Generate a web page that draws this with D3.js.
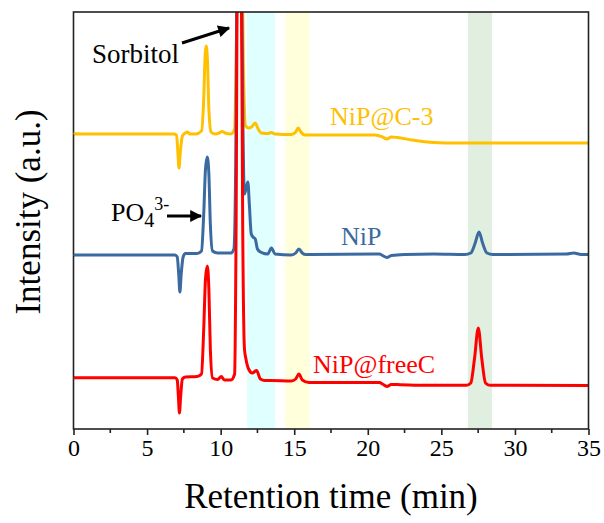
<!DOCTYPE html>
<html lang="en">
<head>
<meta charset="utf-8">
<script src="https://d3js.org/d3.v7.min.js"></script>
<style>
body { margin: 0; background: #fff; }
svg text { font-family: "Times New Roman", "Liberation Serif", serif; }
.frame { fill: none; stroke: #222; stroke-width: 1.6; }
.trace { fill: none; stroke-width: 3; stroke-linejoin: round; }
</style>
</head>
<body>
<div id="chart"></div>
<script>

// retention time (min) and intensity, one list per sample
var nipC3 = [[0,295],[6.8,295],[7.0,294],[7.1,275],[7.17,261],[7.25,275],[7.4,293],[7.6,296],[7.75,297],[7.9,295],
  [8.3,295],[8.7,298],[8.85,330],[8.95,375],[9.02,383],[9.1,370],[9.2,320],[9.35,297],[9.6,295],[9.9,296],
  [10.1,297.5],[10.3,296],[10.7,295],[10.95,300],[11.05,360],[11.15,460],[11.45,460],[11.55,360],[11.7,303],
  [11.9,301],[12.1,302],[12.35,306],[12.55,300],[12.75,296],[13.2,295.5],[13.45,296.5],[13.7,295],[14.8,294.5],
  [15.1,297],[15.27,301],[15.45,297],[15.7,294],[16.5,294],[20.5,294],[21.0,292],[21.3,290],[21.6,292],
  [22,291.5],[23,289],[24.5,286.5],[26,286],[35,286]];

var nip = [[0,174],[6.9,174],[7.05,172],[7.15,155],[7.23,137],[7.32,155],[7.45,172],[7.6,175.5],[8.4,175.5],
  [8.7,178],[8.85,215],[8.97,260],[9.09,272],[9.2,255],[9.3,205],[9.45,178],[9.8,176],[10.7,176],[10.9,180],
  [11.02,260],[11.12,460],[11.42,460],[11.52,300],[11.62,235],[11.72,240],[11.85,247],[11.95,225],[12.08,195],
  [12.2,192],[12.35,190],[12.5,180],[12.7,177],[13.2,175],[13.45,181],[13.7,175],[14.8,174],[15.1,176],
  [15.32,180],[15.55,176],[15.8,174.5],[20.8,175],[21.0,173.5],[21.3,171.5],[21.6,173.5],[22.5,174.5],
  [24.5,175],[26.6,174.5],[27.0,176],[27.3,186],[27.56,197],[27.8,186],[28.1,176],[28.5,174.5],[33.5,175],
  [34,176],[34.5,174.5],[35,174.5]];

var nipFreeC = [[0,51.3],[6.9,51.3],[7.05,49],[7.13,32],[7.2,16],[7.28,32],[7.4,50],[7.6,52],[8.4,52.5],
  [8.7,55],[8.85,100],[8.97,150],[9.09,163],[9.2,140],[9.3,80],[9.45,51],[9.8,49.5],[10.04,52.5],[10.25,49],
  [10.7,49],[10.95,55],[11.05,200],[11.14,460],[11.4,460],[11.5,200],[11.62,80],[11.72,70],[11.9,60],
  [12.15,56],[12.44,58.5],[12.7,50],[13.0,48.5],[13.4,48.5],[14.8,48],[15.1,50],[15.32,55],[15.55,49],
  [16,46.5],[20.8,46.5],[21.0,45],[21.3,42.5],[21.6,44.5],[22.2,44.3],[24,43.7],[26.7,43.7],[27.0,46],
  [27.25,70],[27.51,101],[27.75,70],[28.0,46],[28.3,43.7],[35,43.5]];

var seriesNames = ["NiP@C-3", "NiP", "NiP@freeC"];
var baselines = [295.5, 174, 51];

// highlighted retention windows
var bandStart = [11.8, 14.4, 26.8];
var bandEnd = [13.7, 16.05, 28.45];

var xTicks = [0, 5, 10, 15, 20, 25, 30, 35];
var xMinor = [2.5, 7.5, 12.5, 17.5, 22.5, 27.5, 32.5];

var width = 604, height = 523;
var colors = ["#ffc000", "#3a6aa0", "#ff0000"];
var bandColors = ["#e0ffff", "#ffffdc", "#e1efe1"];

var x = d3.scaleLinear().domain([0, 35]).range([73.5, 588.5]);
var y = d3.scaleLinear().domain([0, 417]).range([429, 12]);

var svg = d3.select("#chart").append("svg")
  .attr("width", width)
  .attr("height", height);

svg.append("defs").append("clipPath").attr("id", "plot")
  .append("rect")
  .attr("x", x(0)).attr("y", y(417))
  .attr("width", x(35) - x(0)).attr("height", y(0) - y(417));

var marker = svg.select("defs").append("marker")
  .attr("id", "head")
  .attr("viewBox", "0 0 10 10")
  .attr("refX", 9).attr("refY", 5)
  .attr("markerWidth", 5).attr("markerHeight", 4)
  .attr("markerUnits", "strokeWidth")
  .attr("orient", "auto");
marker.append("path").attr("d", "M0,0 L10,5 L0,10 Z").attr("fill", "#000");

// bands
svg.selectAll("rect.band")
  .data(bandStart)
  .enter().append("rect")
  .attr("class", "band")
  .attr("x", function(d) { return x(d); })
  .attr("y", y(417))
  .attr("width", function(d, i) { return x(bandEnd[i]) - x(d); })
  .attr("height", y(0) - y(417))
  .attr("fill", function(d, i) { return bandColors[i]; });

// traces
var line = d3.line()
  .x(function(d) { return x(d[0]); })
  .y(function(d) { return y(d[1]); })
  .curve(d3.curveMonotoneX);

var g = svg.append("g").attr("clip-path", "url(#plot)");
[nipC3, nip, nipFreeC].forEach(function(s, i) {
  g.append("path")
    .attr("class", "trace")
    .attr("d", line(s))
    .attr("stroke", colors[i]);
});

// frame
svg.append("rect").attr("class", "frame")
  .attr("x", x(0)).attr("y", y(417))
  .attr("width", x(35) - x(0)).attr("height", y(0) - y(417));

// x axis
var xAxis = svg.append("g").attr("transform", "translate(0," + y(0) + ")");
xAxis.call(d3.axisBottom(x).tickValues(xTicks).tickSize(6).tickPadding(4).tickFormat(d3.format("d")));
xAxis.select(".domain").remove();
xAxis.selectAll(".tick line").attr("stroke", "#222").attr("stroke-width", 1.6);
xAxis.selectAll(".tick text").attr("font-size", 24).attr("fill", "#000")
  .style("font-family", "'Times New Roman', 'Liberation Serif', serif");
xAxis.selectAll("line.minor")
  .data(xMinor)
  .enter().append("line")
  .attr("class", "minor")
  .attr("x1", function(d) { return x(d); })
  .attr("x2", function(d) { return x(d); })
  .attr("y1", 0).attr("y2", 4)
  .attr("stroke", "#222").attr("stroke-width", 1.6);

// baseline marks on the left axis
svg.selectAll("line.base")
  .data(baselines)
  .enter().append("line")
  .attr("class", "base")
  .attr("x1", x(0)).attr("x2", x(0) + 6)
  .attr("y1", function(d) { return y(d); })
  .attr("y2", function(d) { return y(d); })
  .attr("stroke", function(d, i) { return colors[i]; })
  .attr("stroke-width", 2);

// axis titles
svg.append("text")
  .attr("x", x(17.5)).attr("y", 508)
  .attr("text-anchor", "middle")
  .attr("font-size", 35)
  .text("Retention time (min)");

svg.append("text")
  .attr("transform", "translate(40," + 212 + ") rotate(-90)")
  .attr("text-anchor", "middle")
  .attr("font-size", 35)
  .text("Intensity (a.u.)");

// series labels
var labelPos = [[330, 125], [341, 245], [313, 373]];
seriesNames.forEach(function(n, i) {
  svg.append("text")
    .attr("x", labelPos[i][0]).attr("y", labelPos[i][1])
    .attr("font-size", 26)
    .attr("fill", colors[i])
    .text(n);
});

// peak annotations
svg.append("text").attr("x", 92).attr("y", 63).attr("font-size", 27).text("Sorbitol");
svg.append("line")
  .attr("x1", 182).attr("y1", 43).attr("x2", 229).attr("y2", 28)
  .attr("stroke", "#000").attr("stroke-width", 3)
  .attr("marker-end", "url(#head)");

var po = svg.append("text").attr("x", 111).attr("y", 221).attr("font-size", 26);
po.append("tspan").text("PO");
po.append("tspan").attr("dy", 6).attr("font-size", 20).text("4");
po.append("tspan").attr("dy", -17).attr("font-size", 18).text("3-");
svg.append("line")
  .attr("x1", 167).attr("y1", 216).attr("x2", 201).attr("y2", 216)
  .attr("stroke", "#000").attr("stroke-width", 3)
  .attr("marker-end", "url(#head)");

</script>
</body>
</html>
